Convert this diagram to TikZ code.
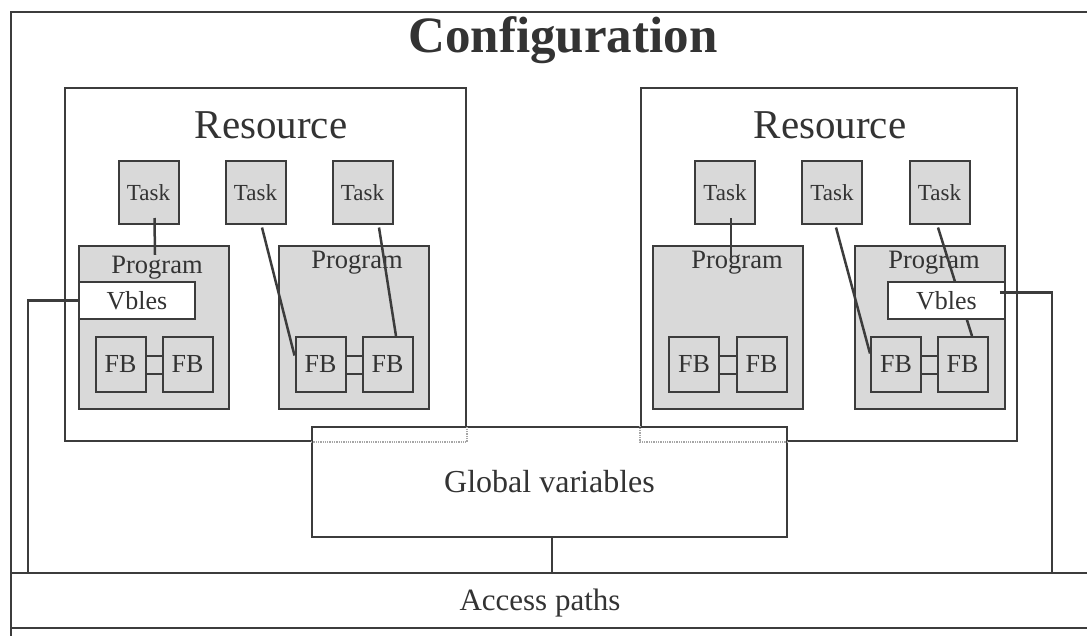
\documentclass[tikz,border=0pt]{standalone}
\usepackage{fontspec}
\setmainfont{Liberation Serif}
\usetikzlibrary{positioning}
\definecolor{linec}{HTML}{3C3C3C}
\definecolor{boxgrey}{HTML}{D9D9D9}
\definecolor{txt}{HTML}{333333}

\begin{document}
\begin{tikzpicture}[x=1pt,y=-1pt,
  every node/.style={text=txt},
  frame/.style={draw=linec,line width=1.6pt,inner sep=0pt,rectangle},
  res/.style={draw=linec,line width=2pt,inner sep=0pt,minimum height=353pt},
  task/.style={draw=linec,line width=2pt,fill=boxgrey,inner sep=0pt,
    minimum width=60pt,minimum height=63pt,font=\fontsize{23}{26}\selectfont},
  prog/.style={draw=linec,line width=2.4pt,fill=boxgrey,inner sep=0pt,
    minimum width=150pt,minimum height=163pt},
  fb/.style={draw=linec,line width=2pt,fill=boxgrey,inner sep=0pt,
    minimum width=50pt,minimum height=55pt,font=\fontsize{26}{30}\selectfont},
  vbles/.style={draw=linec,line width=1.6pt,fill=white,inner sep=0pt,
    minimum width=116pt,minimum height=37pt,font=\fontsize{26}{30}\selectfont},
  plabel/.style={anchor=base,font=\fontsize{26.5}{30}\selectfont},
  link/.style={draw=linec,line width=2.5pt},
  hidden/.style={draw=gray!70,densely dotted,line width=1.3pt}]

\useasboundingbox (0,0) rectangle (1087,635);
\clip (0,0) rectangle (1087,635);

% configuration and access paths
\node[frame,minimum width=1109pt,minimum height=688pt] (config) at (565.5,356) {};
\node[frame,minimum width=1109pt,minimum height=55pt] (apath) at (565.5,600.5) {};
\node[anchor=base,font=\fontsize{51}{56}\selectfont\bfseries] (title) at (563,52) {Configuration};
\node[anchor=base,font=\fontsize{31}{36}\selectfont] (aptext) at (540,610) {Access paths};

% resources
\node[res,minimum width=401pt] (resL) at (265.5,264.5) {};
\node[res,minimum width=376pt] (resR) at (829,264.5) {};
\node[anchor=base,font=\fontsize{41}{46}\selectfont] (rlL) at (271,138) {Resource};
\node[anchor=base,font=\fontsize{41}{46}\selectfont] (rlR) at (830,138) {Resource};

% global variables
\node[frame,line width=2pt,fill=white,minimum width=475pt,minimum height=110pt,
  font=\fontsize{32}{36}\selectfont] (glob) at (549.5,482) {Global variables};
\draw[hidden] (glob.west |- resL.south) -- (resL.south east) -- (resL.east |- glob.north);
\draw[hidden] (glob.east |- resR.south) -- (resR.south west) -- (resR.west |- glob.north);

% left resource
\node[task] (tL1) at (148.5,192.5) {Task};
\node[task] (tL2) at (255.5,192.5) {Task};
\node[task] (tL3) at (362.5,192.5) {Task};
\node[prog] (pL1) at (154,327.5) {};
\node[prog] (pL2) at (354,327.5) {};
\node[plabel] (plL1) at (157,273) {Program};
\node[plabel] (plL2) at (357,268) {Program};
\node[fb] (fL1) at (120.5,364.5) {FB};
\node[fb] (fL2) at (187.5,364.5) {FB};
\node[fb] (fL3) at (320.5,364.5) {FB};
\node[fb] (fL4) at (387.5,364.5) {FB};

% right resource
\node[task] (tR1) at (725,192.5) {Task};
\node[task] (tR2) at (832,192.5) {Task};
\node[task] (tR3) at (939.5,192.5) {Task};
\node[prog] (pR1) at (728,327.5) {};
\node[prog] (pR2) at (930,327.5) {};
\node[plabel] (plR1) at (737,268) {Program};
\node[plabel] (plR2) at (934,268) {Program};
\node[fb] (fR1) at (694,364.5) {FB};
\node[fb] (fR2) at (761.5,364.5) {FB};
\node[fb] (fR3) at (896,364.5) {FB};
\node[fb] (fR4) at (962.5,364.5) {FB};

% FB to FB
\foreach \a/\b in {fL1/fL2,fL3/fL4,fR1/fR2,fR3/fR4}{
  \draw[link,line width=2pt] ([yshift=9pt]\a.east) -- ([yshift=9pt]\b.west);
  \draw[link,line width=2pt] ([yshift=-9pt]\a.east) -- ([yshift=-9pt]\b.west);
}

% tasks to programs and FBs
\draw[link] ([xshift=6pt,yshift=7pt]tL1.south) -- ([xshift=1pt,yshift=-10pt]pL1.north);
\draw[link] ([xshift=6.5pt,yshift=-2.5pt]tL2.south) -- ([yshift=9pt]fL3.west);
\draw[link] ([xshift=16.5pt,yshift=-2.5pt]tL3.south) -- ([xshift=8.5pt]fL4.north);
\draw[link] ([xshift=6pt,yshift=7pt]tR1.south) -- ([xshift=3pt,yshift=-12pt]pR1.north);
\draw[link] ([xshift=4pt,yshift=-2.5pt]tR2.south) -- ([yshift=11pt]fR3.west);
\draw[link] ([xshift=-1.5pt,yshift=-2.5pt]tR3.south) -- ([xshift=9.5pt]fR4.north);

% variables
\node[vbles] (vL) at (137,300.5) {Vbles};
\node[vbles,minimum width=117pt] (vR) at (946.5,300.5) {Vbles};

% access paths
\draw[link] (vL.west) -| ([xshift=18pt]apath.north west);
\draw[link] ([xshift=-6pt,yshift=8pt]vR.east) -| ([xshift=1042pt]apath.north west);
\draw[link] ([xshift=2.5pt]glob.south) -- ([xshift=2.5pt]glob.south |- apath.north);
\end{tikzpicture}
\end{document}
